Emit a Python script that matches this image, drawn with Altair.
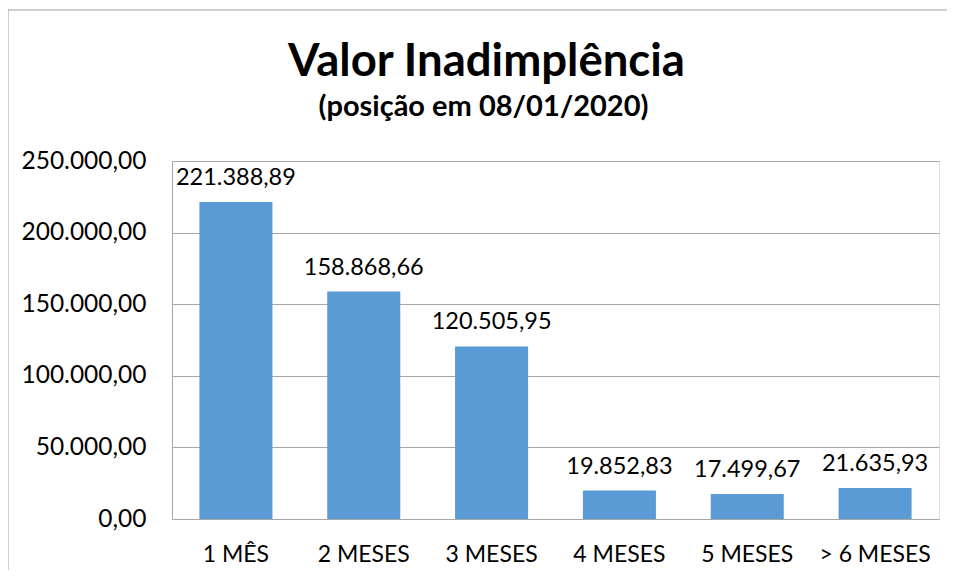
import altair as alt
import pandas as pd

categories = ["1 MÊS", "2 MESES", "3 MESES", "4 MESES", "5 MESES", "> 6 MESES"]
values = [221388.89, 158868.66, 120505.95, 19852.83, 17499.67, 21635.93]
y_ticks = [0, 50000, 100000, 150000, 200000, 250000]
title_text = "Valor Inadimplência"
subtitle_text = "(posição em 08/01/2020)"

df = pd.DataFrame({"cat": categories, "val": values})

FONT = "Lato"
GRID = "#A6A6A6"
FRAME = "#A0A0A0"

base = alt.Chart(df)

x_enc = alt.X(
    "cat:N",
    sort=categories,
    title=None,
    scale=alt.Scale(paddingInner=0.4286, paddingOuter=0.2143),
    axis=alt.Axis(
        labelAngle=0,
        ticks=False,
        tickSize=0,
        labelPadding=24,
        labelFontSize=23,
        labelFont=FONT,
        labelColor="#000000",
        domainColor=GRID,
        grid=False,
    ),
)
y_enc = alt.Y(
    "val:Q",
    title=None,
    scale=alt.Scale(domain=[0, 250000], nice=False),
    axis=alt.Axis(
        values=y_ticks,
        format=",.2f",
        ticks=False,
        tickSize=0,
        labelPadding=26,
        labelFontSize=24.5,
        labelFont=FONT,
        labelColor="#000000",
        domainColor=GRID,
        gridColor=GRID,
        grid=True,
    ),
)

bars = base.mark_bar(color="#5B9BD5").encode(x=x_enc, y=y_enc)

labels = base.mark_text(
    baseline="alphabetic", dy=-17, fontSize=23.5, font=FONT, color="#000000"
).encode(
    x=alt.X("cat:N", sort=categories),
    y=alt.Y("val:Q"),
    text=alt.Text("val:Q", format=",.2f"),
)

frame_top = alt.Chart(alt.Data(values=[{}])).mark_rect(
    color=FRAME, strokeWidth=0
).encode(x=alt.value(-164.5), x2=alt.value(775), y=alt.value(-151.5), y2=alt.value(-150.5))

frame_left = alt.Chart(alt.Data(values=[{}])).mark_rect(
    color=FRAME, strokeWidth=0
).encode(x=alt.value(-164.5), x2=alt.value(-163.5), y=alt.value(-151.5), y2=alt.value(409))

title_df = pd.DataFrame({"t": [title_text]})
sub_df = pd.DataFrame({"t": [subtitle_text]})

title_mark = alt.Chart(title_df).mark_text(
    font=FONT, fontSize=45.5, fontWeight="bold", color="#000000",
    align="center", baseline="alphabetic",
).encode(text="t:N", x=alt.value(314.5), y=alt.value(-85))

sub_mark = alt.Chart(sub_df).mark_text(
    font=FONT, fontSize=29, fontWeight="bold", color="#000000",
    align="center", baseline="alphabetic",
).encode(text="t:N", x=alt.value(311.5), y=alt.value(-45))

chart = (
    alt.layer(frame_top, frame_left, bars, labels, title_mark, sub_mark)
    .properties(
        width=767,
        height=358,
        padding={"left": 164, "top": 153, "right": 8, "bottom": 51},
        autosize=alt.AutoSizeParams(type="none"),
    )
    .configure_view(strokeWidth=0)
    .configure(
        locale={
            "number": {
                "decimal": ",",
                "thousands": ".",
                "grouping": [3],
                "currency": ["R$", ""],
            }
        }
    )
)

chart.save("out.html", embed_options={"renderer": "svg", "actions": False})
